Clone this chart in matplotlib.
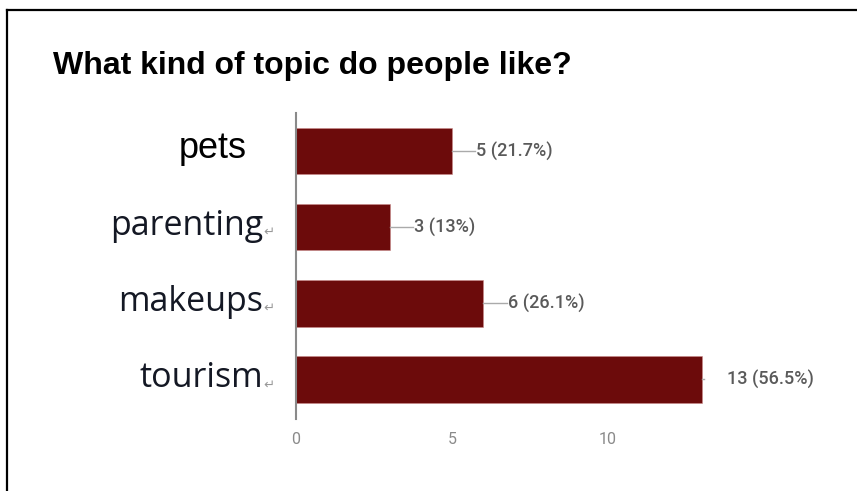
import matplotlib.pyplot as plt
from matplotlib.lines import Line2D

# survey answers, bottom to top
topics = ["tourism", "makeups", "parenting", "pets"]
counts = [13, 6, 3, 5]
percents = ["56.5%", "26.1%", "13%", "21.7%"]
title = "What kind of topic do people like?"
xticks = [0, 5, 10]

W, H = 857, 491
fig = plt.figure(figsize=(W / 100, H / 100), dpi=100)

# pixel layout -> figure fractions
ax_left, ax_right = 296, 796
ax_top, ax_bot = 113, 419
ax = fig.add_axes([ax_left / W, (H - ax_bot) / H, (ax_right - ax_left) / W, (ax_bot - ax_top) / H])

px_per_unit = 31.2
ax.set_xlim(0, (ax_right - ax_left) / px_per_unit)
ax.set_ylim(-0.52, 3.5)

bar_color = "#6c0b0b"
ypos = list(range(len(topics)))
ax.barh(ypos, counts, height=0.61, color=bar_color, edgecolor="#c98a8a", linewidth=0.4)

for s in ["top", "right", "bottom"]:
    ax.spines[s].set_visible(False)
ax.spines["left"].set_color("#8a8a8a")
ax.spines["left"].set_linewidth(1.5)

ax.set_xticks(xticks)
ax.set_xticklabels([str(t) for t in xticks], color="#8a8a8a", fontsize=11.5, family="Roboto")
ax.tick_params(axis="x", length=0, pad=9)
ax.set_yticks([])

# value labels with leader lines
for y, c, p in zip(ypos, counts, percents):
    if c > 10:
        ax.plot([c, c + 0.08], [y, y], color="#aaaaaa", lw=1)
        ax.text(c + 0.8, y, f"{c} ({p})", va="center", ha="left", fontsize=13,
                color="#5a5a5a", family="Roboto", fontweight="medium")
    else:
        ax.plot([c, c + 0.75], [y, y], color="#aaaaaa", lw=1)
        ax.text(c + 0.78, y, f"{c} ({p})", va="center", ha="left", fontsize=13,
                color="#5a5a5a", family="Roboto", fontweight="medium")

# category labels
for y, t in zip(ypos, topics):
    if t == "pets":
        ax.text(-49 / px_per_unit, y + 0.03, t, ha="right", va="center", fontsize=26,
                family="Liberation Sans", color="black")
    else:
        ax.text(-33 / px_per_unit, y + 0.02, t, ha="right", va="center", fontsize=24.5,
                family="Open Sans", color="#141824", fontweight="medium")
        ax.text(-33 / px_per_unit, y - 0.07, "\u21b5", ha="left", va="center", fontsize=9.5,
                family="DejaVu Sans", color="#999999")

fig.text(53 / W, 1 - 74 / H, title, fontsize=23, fontweight="bold",
         family="Liberation Sans", va="baseline", ha="left")

# frame: only top and left edges visible
fig.add_artist(Line2D([7 / W, 7 / W], [0, 1 - 10 / H], color="black", lw=1.6))
fig.add_artist(Line2D([7 / W, 1], [1 - 10 / H, 1 - 10 / H], color="black", lw=1.6))

fig.savefig("out.png", dpi=100)
